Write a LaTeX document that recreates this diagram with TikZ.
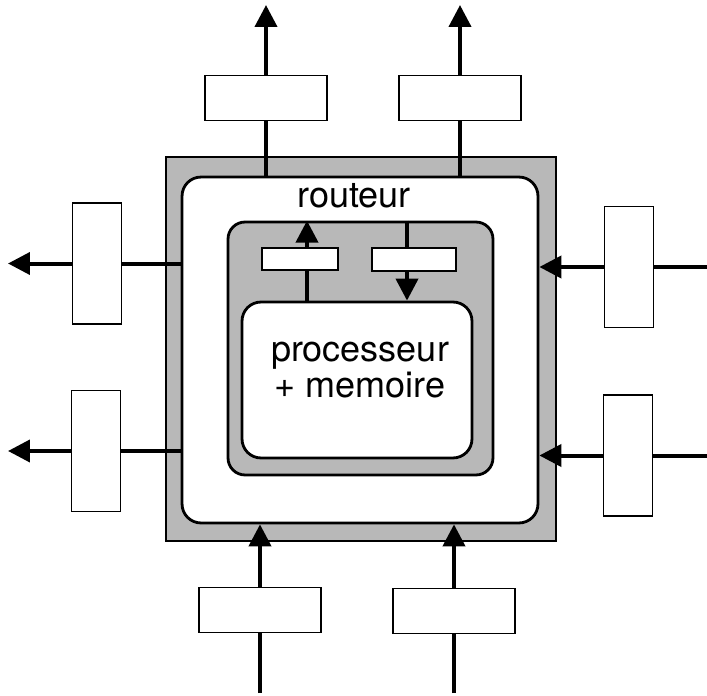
\documentclass[tikz,border=0pt]{standalone}
\usepackage{fontspec}
\setmainfont{TeX Gyre Heros}
\usetikzlibrary{arrows.meta, positioning, calc}

\begin{document}
\begin{tikzpicture}[
    x=0.02cm, y=-0.02cm,
    chip/.style={rectangle, draw, line width=1.6pt, fill=black!28, minimum width=7.8cm, minimum height=7.68cm, inner sep=0pt},
    area/.style={rectangle, draw, line width=1.6pt, fill=white, rounded corners=0.38cm, inner sep=0pt},
    buf/.style={rectangle, draw, line width=1.1pt, fill=white, inner sep=0pt},
    hbox/.style={buf, minimum width=2.44cm, minimum height=0.9cm},
    vbox/.style={buf, minimum width=0.98cm, minimum height=2.42cm},
    lbl/.style={font=\fontsize{20.5pt}{20pt}\selectfont, inner sep=0pt},
    wire/.style={line width=0.08cm},
    arrow/.style={wire, -{Triangle[length=0.44cm, width=0.44cm]}}
]
    \useasboundingbox (0,0) rectangle (707,696);

    % noeud: routeur + processeur
    \node [chip] (chip) at (361,349) {};
    \node [area, minimum width=7.12cm, minimum height=6.92cm] (rtr) at (360,350) {};
    \node [area, fill=black!28, rounded corners=0.34cm, minimum width=5.3cm, minimum height=5.06cm] (cell) at (360.5,348.5) {};
    \node [area, minimum width=4.6cm, minimum height=3.12cm] (cpu) at (357,380) {};
    \node [buf, minimum width=1.52cm, minimum height=0.44cm] (buf1) at (300,259) {};
    \node [buf, minimum width=1.68cm, minimum height=0.46cm] (buf2) at (414,259.5) {};

    \node [lbl, anchor=base] (rlabel) at (354,208) {routeur};
    \node [lbl, align=center] (plabel) at (360,370) {processeur\\+ memoire};

    \draw [wire] ($(buf1.south |- cpu.north)+(7,0)$) -- ($(buf1.south)+(7,0)$);
    \draw [arrow] ($(buf1.north)+(7,0)$) -- ($(buf1.north |- cell.north)+(7,0)$);
    \draw [wire] ($(buf2.north |- cell.north)+(-7,0)$) -- ($(buf2.north)+(-7,0)$);
    \draw [arrow] ($(buf2.south)+(-7,0)$) -- ($(buf2.south |- cpu.north)+(-7,0)$);

    % tampons des liens
    \node [hbox] (tb1) at (266,98) {};
    \node [hbox] (tb2) at (460,98) {};
    \node [vbox] (lb1) at (97,263.5) {};
    \node [vbox] (lb2) at (96,451) {};
    \node [vbox] (rb1) at (629,267) {};
    \node [vbox] (rb2) at (628,455.5) {};
    \node [hbox] (bb1) at (260,610) {};
    \node [hbox] (bb2) at (454,611) {};

    \coordinate (tt1) at (266,5);
    \coordinate (tt2) at (460,5);
    \coordinate (lt1) at (8,263.5);
    \coordinate (lt2) at (8,451);
    \coordinate (rs1) at (707,267);
    \coordinate (rs2) at (707,455.5);
    \coordinate (bs1) at (260,693);
    \coordinate (bs2) at (454,693);

    % sorties
    \draw [wire] (tb1 |- rtr.north) -- (tb1);
    \draw [arrow] (tb1) -- (tt1);
    \draw [wire] (tb2 |- rtr.north) -- (tb2);
    \draw [arrow] (tb2) -- (tt2);
    \draw [wire] (rtr.west |- lb1) -- (lb1);
    \draw [arrow] (lb1) -- (lt1);
    \draw [wire] (rtr.west |- lb2) -- (lb2);
    \draw [arrow] (lb2) -- (lt2);

    % entrees
    \draw [wire] (rs1) -- (rb1);
    \draw [arrow] (rb1) -- (rtr.east |- rb1);
    \draw [wire] (rs2) -- (rb2);
    \draw [arrow] (rb2) -- (rtr.east |- rb2);
    \draw [wire] (bs1) -- (bb1);
    \draw [arrow] (bb1) -- (bb1 |- rtr.south);
    \draw [wire] (bs2) -- (bb2);
    \draw [arrow] (bb2) -- (bb2 |- rtr.south);
\end{tikzpicture}
\end{document}
